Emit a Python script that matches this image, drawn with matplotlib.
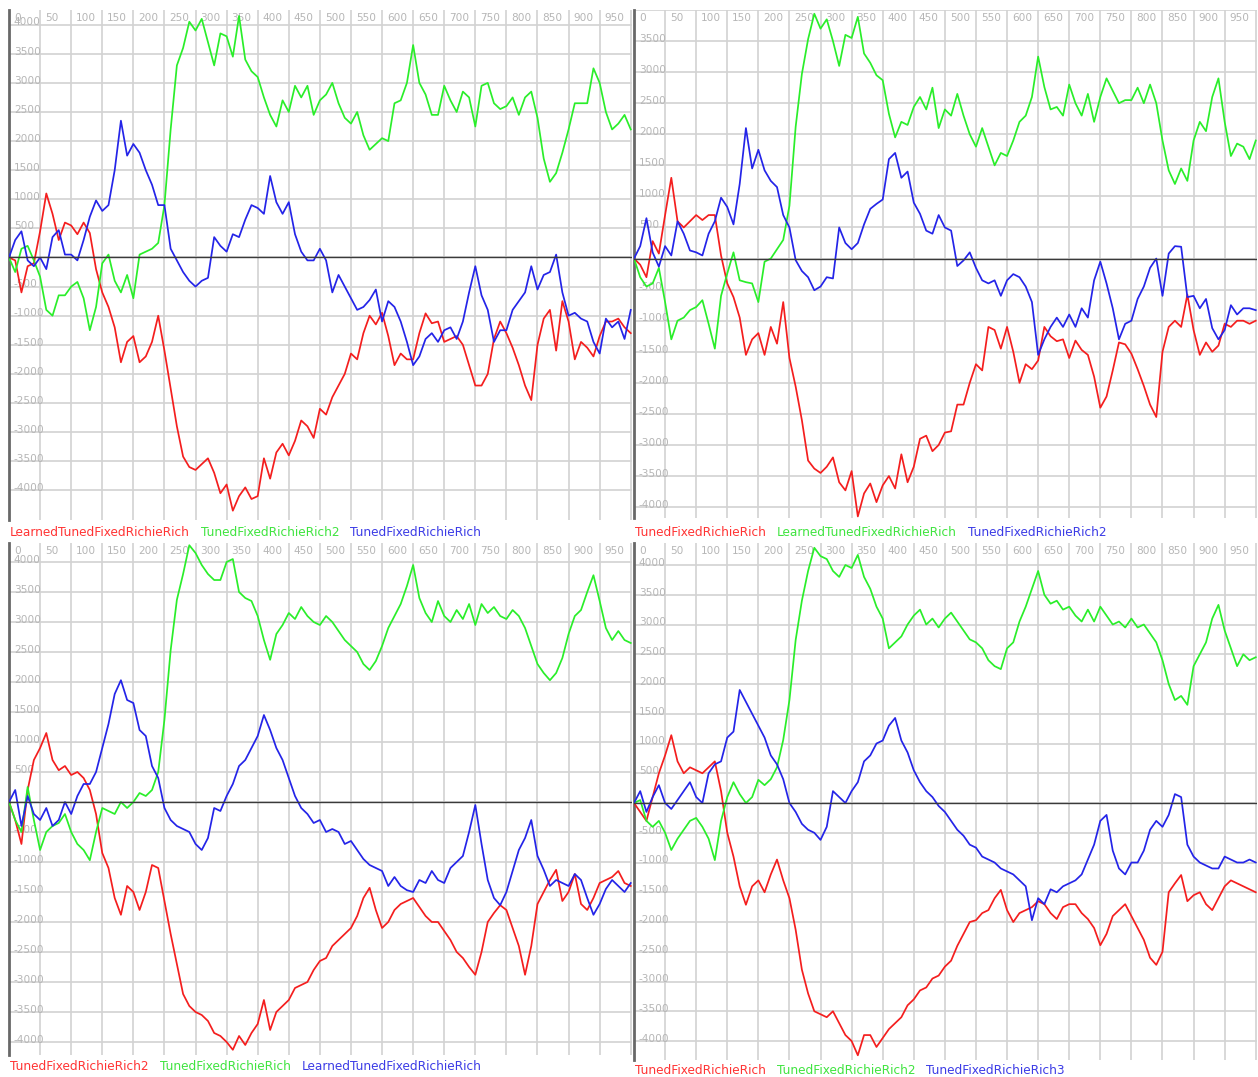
import numpy as np
import matplotlib.pyplot as plt

plt.rcParams['font.family'] = ['DejaVu Sans']

W, H = 1258, 1077
steps = np.arange(0, 1001, 10)

# panel 1 (top left)
p1_red = [0, -50, -600, -150, -100, 450, 1100, 750, 300, 600,
          550, 400, 600, 420, -200, -600, -850, -1200, -1800, -1450,
          -1350, -1800, -1700, -1450, -1000, -1600, -2250, -2900, -3420, -3600,
          -3650, -3550, -3450, -3700, -4050, -3900, -4350, -4100, -3950, -4150,
          -4100, -3450, -3800, -3350, -3200, -3400, -3150, -2800, -2900, -3100,
          -2600, -2700, -2400, -2200, -2000, -1650, -1750, -1300, -1000, -1150,
          -950, -1350, -1850, -1650, -1750, -1750, -1300, -960, -1130, -1100,
          -1450, -1400, -1350, -1500, -1850, -2200, -2200, -2000, -1400, -1100,
          -1300, -1550, -1850, -2200, -2450, -1500, -1050, -900, -1600, -750,
          -1100, -1750, -1450, -1550, -1700, -1350, -1100, -1100, -1050, -1200,
          -1300]
p1_green = [0, -250, 150, 200, -50, -330, -900, -1000, -650, -650,
            -500, -420, -700, -1250, -850, -100, 50, -400, -600, -300,
            -700, 50, 100, 150, 250, 900, 2200, 3300, 3600, 4050,
            3900, 4100, 3700, 3300, 3850, 3800, 3450, 4150, 3400, 3200,
            3100, 2750, 2450, 2250, 2700, 2500, 2950, 2750, 2950, 2450,
            2700, 2800, 3000, 2650, 2400, 2300, 2500, 2100, 1850, 1950,
            2050, 2000, 2650, 2700, 3000, 3650, 3000, 2800, 2450, 2450,
            2950, 2700, 2500, 2850, 2750, 2250, 2950, 3000, 2650, 2550,
            2600, 2750, 2450, 2750, 2850, 2400, 1700, 1300, 1450, 1800,
            2200, 2650, 2650, 2650, 3250, 3000, 2500, 2200, 2300, 2450,
            2200]
p1_blue = [0, 300, 450, -50, -150, 0, -200, 350, 470, 50,
           50, -50, 300, 700, 980, 800, 900, 1500, 2350, 1750,
           1950, 1800, 1500, 1250, 900, 900, 150, -50, -250, -400,
           -500, -400, -350, 350, 200, 100, 400, 350, 650, 900,
           850, 750, 1400, 950, 750, 950, 400, 100, -50, -50,
           150, -50, -600, -300, -500, -700, -900, -850, -730, -550,
           -1100, -750, -850, -1100, -1450, -1850, -1700, -1400, -1300, -1450,
           -1250, -1200, -1400, -1100, -600, -150, -650, -900, -1450, -1250,
           -1250, -900, -750, -600, -150, -550, -300, -250, 50, -600,
           -1000, -950, -1050, -1100, -1450, -1650, -1050, -1200, -1100, -1400,
           -900]

# panel 2 (top right)
p2_red = [0, -100, -300, 280, 80, 700, 1300, 600, 500, 600,
          700, 620, 700, 700, 50, -400, -620, -950, -1550, -1300,
          -1200, -1550, -1100, -1370, -700, -1600, -2060, -2600, -3250, -3380,
          -3450, -3350, -3200, -3600, -3730, -3420, -4150, -3780, -3620, -3920,
          -3650, -3500, -3700, -3150, -3600, -3350, -2900, -2850, -3100, -3000,
          -2800, -2780, -2350, -2350, -2000, -1700, -1800, -1100, -1150, -1450,
          -1100, -1500, -2000, -1700, -1780, -1640, -1100, -1250, -1330, -1300,
          -1600, -1320, -1470, -1550, -1900, -2400, -2220, -1800, -1350, -1380,
          -1530, -1780, -2050, -2350, -2550, -1500, -1100, -1000, -1100, -580,
          -1150, -1550, -1350, -1500, -1400, -1050, -1100, -1000, -1000, -1050,
          -1000]
p2_green = [0, -300, -450, -400, -150, -700, -1300, -1000, -950, -830,
            -780, -670, -1050, -1450, -600, -240, 100, -350, -380, -400,
            -700, -50, 0, 150, 300, 850, 2120, 2970, 3530, 3940,
            3700, 3850, 3500, 3100, 3600, 3550, 3890, 3300, 3150, 2950,
            2870, 2330, 1950, 2200, 2150, 2440, 2600, 2400, 2750, 2100,
            2400, 2300, 2650, 2300, 2000, 1800, 2100, 1800, 1500, 1700,
            1650, 1900, 2200, 2300, 2600, 3250, 2760, 2400, 2440, 2300,
            2800, 2500, 2300, 2650, 2200, 2600, 2900, 2700, 2500, 2550,
            2550, 2750, 2500, 2800, 2500, 1900, 1420, 1200, 1450, 1250,
            1900, 2200, 2050, 2600, 2900, 2200, 1650, 1850, 1800, 1600,
            1900]
p2_blue = [0, 200, 650, 100, -130, 200, 50, 600, 400, 130,
           100, 50, 400, 600, 980, 830, 550, 1200, 2100, 1450,
           1750, 1420, 1250, 1150, 700, 500, -25, -200, -300, -510,
           -450, -300, -320, 500, 250, 150, 250, 550, 800, 880,
           950, 1600, 1700, 1300, 1400, 900, 720, 450, 400, 700,
           500, 450, -120, -30, 100, -150, -350, -400, -350, -600,
           -350, -250, -300, -450, -700, -1550, -1300, -1100, -950, -1100,
           -900, -1100, -800, -950, -350, -50, -400, -800, -1300, -1050,
           -1000, -650, -450, -150, 0, -600, 80, 200, 190, -620,
           -600, -800, -650, -1120, -1300, -1150, -750, -900, -800, -800,
           -830]

# panel 3 (bottom left)
p3_red = [0, -300, -700, 200, 700, 900, 1150, 700, 530, 600,
          450, 500, 400, 200, -200, -850, -1100, -1600, -1880, -1400,
          -1500, -1800, -1500, -1050, -1100, -1650, -2200, -2700, -3200, -3400,
          -3500, -3550, -3650, -3850, -3900, -4000, -4130, -3900, -4050, -3850,
          -3700, -3300, -3800, -3500, -3400, -3300, -3100, -3050, -3000, -2800,
          -2650, -2600, -2400, -2300, -2200, -2100, -1900, -1600, -1430, -1800,
          -2100, -2000, -1800, -1700, -1650, -1600, -1750, -1900, -2000, -2000,
          -2150, -2300, -2500, -2600, -2750, -2880, -2500, -2000, -1850, -1720,
          -1800, -2100, -2400, -2880, -2400, -1700, -1500, -1300, -1130, -1650,
          -1500, -1200, -1700, -1800, -1600, -1350, -1300, -1250, -1150, -1350,
          -1400]
p3_green = [0, -300, -500, 250, -300, -800, -500, -400, -350, -200,
            -500, -700, -800, -970, -500, -100, -150, -200, 0, -100,
            0, 150, 100, 200, 500, 1370, 2530, 3370, 3800, 4280,
            4150, 3950, 3800, 3700, 3700, 4000, 4050, 3500, 3400, 3350,
            3100, 2700, 2370, 2800, 2950, 3150, 3050, 3250, 3100, 3000,
            2950, 3100, 3000, 2850, 2700, 2600, 2500, 2300, 2200, 2350,
            2600, 2900, 3100, 3300, 3600, 3950, 3400, 3150, 3000, 3350,
            3100, 3000, 3200, 3050, 3300, 2950, 3300, 3150, 3250, 3100,
            3050, 3200, 3100, 2900, 2600, 2300, 2150, 2030, 2150, 2400,
            2800, 3100, 3200, 3500, 3780, 3350, 2900, 2700, 2850, 2700,
            2650]
p3_blue = [0, 200, -400, 100, -200, -300, -100, -400, -300, 0,
           -200, 100, 300, 300, 500, 900, 1300, 1800, 2030, 1700,
           1650, 1200, 1100, 600, 400, -100, -300, -400, -450, -500,
           -700, -800, -600, -100, -150, 100, 300, 600, 700, 900,
           1100, 1450, 1200, 900, 700, 400, 100, -100, -200, -350,
           -300, -500, -450, -500, -700, -650, -800, -950, -1050, -1100,
           -1150, -1400, -1250, -1400, -1470, -1500, -1300, -1350, -1150, -1300,
           -1350, -1100, -1000, -900, -500, -50, -700, -1300, -1600, -1720,
           -1500, -1150, -800, -600, -300, -900, -1130, -1400, -1300, -1350,
           -1400, -1200, -1300, -1600, -1880, -1700, -1450, -1300, -1400, -1500,
           -1350]

# panel 4 (bottom right)
p4_red = [0, -150, -300, 100, 500, 800, 1140, 700, 500, 600,
          550, 500, 600, 700, 200, -500, -900, -1400, -1710, -1400,
          -1300, -1500, -1200, -950, -1300, -1600, -2130, -2800, -3200, -3500,
          -3550, -3600, -3500, -3700, -3900, -4000, -4240, -3900, -3900, -4100,
          -3950, -3800, -3700, -3600, -3400, -3300, -3150, -3100, -2950, -2900,
          -2750, -2650, -2400, -2200, -2000, -1970, -1850, -1800, -1600, -1460,
          -1800, -2000, -1850, -1800, -1750, -1650, -1700, -1850, -1950, -1750,
          -1700, -1700, -1850, -1950, -2100, -2390, -2200, -1900, -1800, -1700,
          -1900, -2100, -2300, -2600, -2720, -2500, -1500, -1350, -1210, -1650,
          -1550, -1500, -1700, -1800, -1600, -1400, -1300, -1350, -1400, -1450,
          -1500]
p4_green = [0, 50, -300, -400, -300, -500, -790, -600, -450, -300,
            -250, -400, -600, -960, -300, 100, 350, 150, 0, 100,
            390, 300, 400, 600, 1060, 1730, 2740, 3400, 3900, 4290,
            4150, 4100, 3900, 3800, 4000, 3950, 4170, 3800, 3600, 3300,
            3100, 2600, 2700, 2800, 3000, 3150, 3250, 3000, 3100, 2950,
            3100, 3200, 3050, 2900, 2750, 2700, 2600, 2400, 2300, 2250,
            2600, 2700, 3050, 3300, 3600, 3900, 3500, 3350, 3400, 3250,
            3300, 3150, 3050, 3250, 3050, 3300, 3150, 3000, 3050, 2950,
            3100, 2950, 3000, 2850, 2700, 2400, 2000, 1730, 1800, 1650,
            2300, 2500, 2700, 3100, 3330, 2900, 2600, 2300, 2500, 2400,
            2450]
p4_blue = [0, 200, -150, 100, 300, 0, -100, 50, 200, 350,
           100, 0, 500, 650, 700, 1100, 1200, 1900, 1700, 1500,
           1300, 1100, 800, 650, 400, 0, -150, -350, -450, -500,
           -620, -400, 200, 100, 0, 200, 350, 700, 800, 1000,
           1050, 1300, 1430, 1050, 850, 550, 350, 200, 100, -50,
           -150, -300, -450, -550, -700, -750, -900, -950, -1000, -1100,
           -1150, -1200, -1300, -1400, -1970, -1600, -1700, -1450, -1500, -1400,
           -1350, -1300, -1200, -950, -700, -300, -200, -800, -1100, -1200,
           -1000, -1000, -800, -450, -300, -400, -200, 150, 100, -700,
           -900, -1000, -1050, -1100, -1100, -900, -950, -1000, -1000, -950,
           -1000]

RED, GREEN, BLUE = '#f41e1e', '#2aee2a', '#2424e8'
LEG = {'r': '#ff3434', 'g': '#40e440', 'b': '#3c3ce6'}

# (left, top, width, height) in pixels, y limits, series, legend y
panels = [
    ((9, 10, 623, 510), (-4510, 4252),
     [(p1_red, 'LearnedTunedFixedRichieRich', 'r'),
      (p1_green, 'TunedFixedRichieRich2', 'g'),
      (p1_blue, 'TunedFixedRichieRich', 'b')], 533),
    ((634, 10, 623, 508), (-4175, 3992),
     [(p2_red, 'TunedFixedRichieRich', 'r'),
      (p2_green, 'LearnedTunedFixedRichieRich', 'g'),
      (p2_blue, 'TunedFixedRichieRich2', 'b')], 533),
    ((9, 543, 623, 512), (-4217, 4317),
     [(p3_red, 'TunedFixedRichieRich2', 'r'),
      (p3_green, 'TunedFixedRichieRich', 'g'),
      (p3_blue, 'LearnedTunedFixedRichieRich', 'b')], 1066),
    ((634, 543, 623, 517), (-4319, 4370),
     [(p4_red, 'TunedFixedRichieRich', 'r'),
      (p4_green, 'TunedFixedRichieRich2', 'g'),
      (p4_blue, 'TunedFixedRichieRich3', 'b')], 1071),
]
line_col = {'r': RED, 'g': GREEN, 'b': BLUE}

fig = plt.figure(figsize=(W / 100, H / 100), dpi=100)
fig.patch.set_facecolor('white')

for (l, t, w, h), ylim, series, ly in panels:
    ax = fig.add_axes([l / W, 1 - (t + h) / H, w / W, h / H])
    ax.set_xlim(0, 1002)
    ax.set_ylim(*ylim)
    ax.set_xticks(range(0, 1001, 50))
    ax.set_yticks(range(-4000, 4001, 500))
    ax.grid(True, color='#d2d2d2', lw=1.2, zorder=0)
    ax.tick_params(length=0, labelbottom=False, labelleft=False)
    for s in ['top', 'right', 'bottom']:
        ax.spines[s].set_visible(False)
    ax.spines['left'].set_color('#686868')
    ax.spines['left'].set_linewidth(2)
    ax.set_facecolor('none')

    for v in range(0, 1000, 50):
        ax.annotate(str(v), (v, 1), xycoords=('data', 'axes fraction'),
                    xytext=(3.5, -2.5), textcoords='offset points',
                    ha='left', va='top', fontsize=7.6, color='#b6b6b6')
    for v in range(-4000, 4001, 500):
        if v == 0 or not (ylim[0] < v < ylim[1]):
            continue
        ax.annotate(str(v), (0, v), xycoords=('axes fraction', 'data'),
                    xytext=(3.5, 1.6), textcoords='offset points',
                    ha='left', va='center', fontsize=7.6, color='#b6b6b6')

    for vals, name, c in series:
        ax.plot(steps, vals, color=line_col[c], lw=1.25, zorder=3)
    ax.axhline(0, color='#3a3a3a', lw=1.0, zorder=4)

fig.canvas.draw()
renderer = fig.canvas.get_renderer()
for (l, t, w, h), ylim, series, ly in panels:
    x = l + 1
    for vals, name, c in series:
        txt = fig.text(x / W, 1 - ly / H, name, color=LEG[c], fontsize=8.7,
                       ha='left', va='center')
        x = txt.get_window_extent(renderer).x1 + 11

fig.savefig('out.png', dpi=100)
